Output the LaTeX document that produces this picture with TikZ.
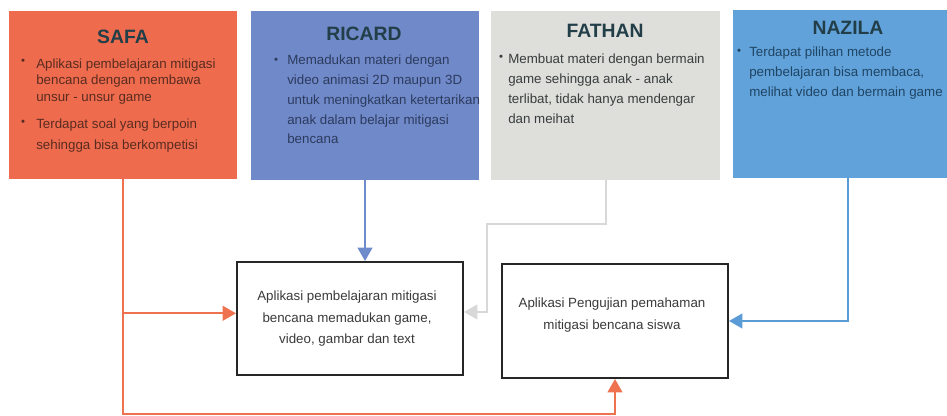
\documentclass[tikz,border=0pt]{standalone}
\usepackage{fontspec}
\setmainfont{Liberation Sans}
\usetikzlibrary{arrows.meta}

\definecolor{safafill}{HTML}{EE6C4D}
\definecolor{ricardfill}{HTML}{7089C9}
\definecolor{fathanfill}{HTML}{DEDEDB}
\definecolor{nazilafill}{HTML}{62A2DA}
\definecolor{titletext}{HTML}{223E48}
\definecolor{safatext}{HTML}{5A2B21}
\definecolor{ricardtext}{HTML}{2C3B5E}
\definecolor{fathantext}{HTML}{383D3D}
\definecolor{nazilatext}{HTML}{1F4564}
\definecolor{boxtext}{HTML}{3A3A3A}
\definecolor{safaline}{HTML}{EE7150}
\definecolor{ricardline}{HTML}{6E8BCB}
\definecolor{fathanline}{HTML}{D8D8D8}
\definecolor{nazilaline}{HTML}{5B9CD6}

\begin{document}
\begin{tikzpicture}[x=0.75pt,y=-0.75pt,
  panel/.style={fill=#1, draw=none, inner sep=0pt},
  result/.style={draw=black!85, line width=1.5pt, fill=white, inner sep=0pt,
    minimum width=169.5pt},
  heading/.style={anchor=base, text=titletext,
    font=\fontsize{14.5pt}{17pt}\selectfont\bfseries},
  body/.style={anchor=base west, inner sep=0pt, text=#1,
    font=\fontsize{10pt}{12pt}\selectfont},
  dot/.style={anchor=base, inner sep=0pt, text=#1,
    font=\fontsize{8.5pt}{9pt}\selectfont},
  centred/.style={anchor=base, inner sep=0pt, text=boxtext,
    font=\fontsize{10pt}{12pt}\selectfont},
  link/.style={line width=1.5pt, draw=#1,
    -{Triangle[length=10pt,width=11pt]}},
]
\useasboundingbox (0,0) rectangle (947,416);

% four source panels
\node[panel=safafill, minimum width=171pt, minimum height=126pt] (safa) at (123,95) {};
\node[panel=ricardfill, minimum width=171pt, minimum height=126.75pt] (ricard) at (365,95.5) {};
\node[panel=fathanfill, minimum width=171.75pt, minimum height=126.75pt] (fathan) at (605.5,95.5) {};
\node[panel=nazilafill, minimum width=172.5pt, minimum height=126pt] (nazila) at (848,94) {};

% panel headings
\node[heading] (safaT) at (123,43.3) {SAFA};
\node[heading] (ricardT) at (364,40.7) {RICARD};
\node[heading] (fathanT) at (605,37.3) {FATHAN};
\node[heading] (nazilaT) at (848,34.3) {NAZILA};

% SAFA points
\node[dot=safatext] (safaD1) at (23,65) {•};
\foreach \t [count=\i from 0] in
  {Aplikasi pembelajaran mitigasi, bencana dengan membawa, unsur - unsur game}
  \node[body=safatext] (safaA\i) at (36,{68.3+\i*16.7}) {\t};
\node[dot=safatext] (safaD2) at (23,125.5) {•};
\foreach \t [count=\i from 0] in
  {Terdapat soal yang berpoin, sehingga bisa berkompetisi}
  \node[body=safatext] (safaB\i) at (36,{128.8+\i*20.5}) {\t};

% RICARD point
\node[dot=ricardtext] (ricardD) at (276,64) {•};
\foreach \t [count=\i from 0] in
  {Memadukan materi dengan, video animasi 2D maupun 3D,
   untuk meningkatkan ketertarikan, anak dalam belajar mitigasi, bencana}
  \node[body=ricardtext] (ricardA\i) at (287,{65+\i*19.75}) {\t};

% FATHAN point
\node[dot=fathantext] (fathanD) at (501,61) {•};
\foreach \t [count=\i from 0] in
  {Membuat materi dengan bermain, game sehingga anak - anak,
   {terlibat, tidak hanya mendengar}, dan meihat}
  \node[body=fathantext] (fathanA\i) at (508,{63.3+\i*20}) {\t};

% NAZILA point
\node[dot=nazilatext] (nazilaD) at (739,55) {•};
\foreach \t [count=\i from 0] in
  {Terdapat pilihan metode, {pembelajaran bisa membaca,},
   melihat video dan bermain game}
  \node[body=nazilatext] (nazilaA\i) at (749,{56.7+\i*20}) {\t};

% two result boxes
\node[result, minimum height=84.75pt] (app) at (350,318.5) {};
\node[result, minimum height=85.5pt] (test) at (615,321) {};
\foreach \t [count=\i from 0] in
  {Aplikasi pembelajaran mitigasi, {bencana memadukan game,}, {video, gambar dan text}}
  \node[centred] (appT\i) at (347,{301+\i*21.5}) {\t};
\foreach \t [count=\i from 0] in
  {Aplikasi Pengujian pemahaman, mitigasi bencana siswa}
  \node[centred] (testT\i) at (612,{307.7+\i*22}) {\t};

% connector waypoints
\coordinate (safaBottom) at (123,414);
\coordinate (fathanBend) at (487,224);
\coordinate (appLeftIn) at ([yshift=3.9pt]app.west);
\coordinate (appRightIn) at ([yshift=4.9pt]app.east);

% connectors
\draw[link=safaline] (safa.south) -- (safaBottom) -| (test.south);
\draw[link=safaline] (safa.south |- appLeftIn) -- (appLeftIn);
\draw[link=ricardline] (ricard.south) -- (ricard.south |- app.north);
\draw[link=fathanline] (fathan.south) |- (fathanBend) |- (appRightIn);
\draw[link=nazilaline] (nazila.south) |- (test.east);
\end{tikzpicture}
\end{document}
